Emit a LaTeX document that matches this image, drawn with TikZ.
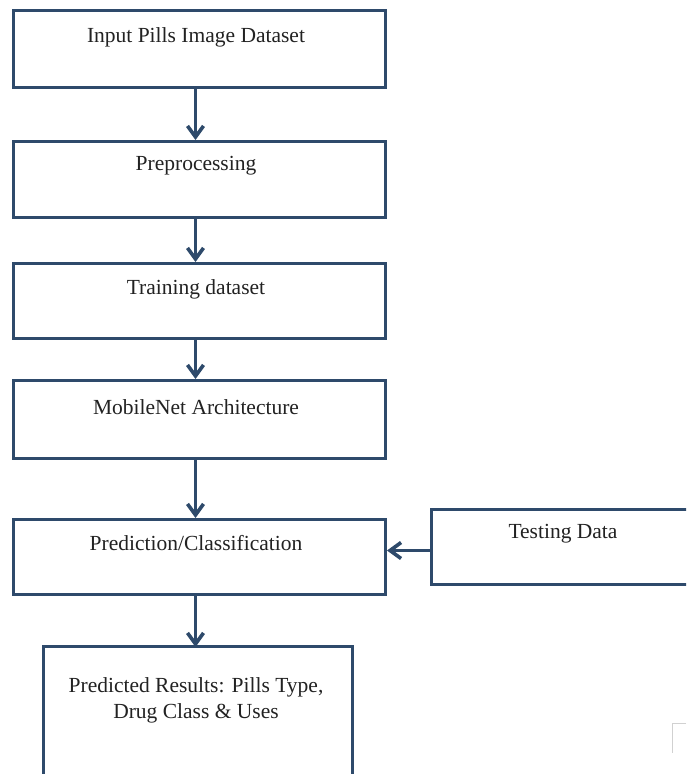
\documentclass[tikz,border=0pt]{standalone}
\usepackage{fontspec}
\setmainfont{Liberation Serif}
\usetikzlibrary{arrows.meta}
\definecolor{navy}{HTML}{2E4A6B}
\definecolor{txt}{HTML}{222222}
\begin{document}
\begin{tikzpicture}[x=1pt,y=-1pt,
  box/.style={draw=navy,line width=3pt,fill=white,inner sep=0pt,anchor=north west},
  lbl/.style={text=txt,font=\fontsize{21.5}{26}\selectfont,align=center,inner sep=0pt},
  arr/.style={draw=navy,line width=3pt,-{Straight Barb[length=11pt,width=16pt,line width=3.6pt]}}]
\useasboundingbox (0,0) rectangle (686,774);
\clip (0,0) rectangle (686,774);
\fill[white] (0,0) rectangle (686,774);
% boxes
\node[box,minimum width=372pt,minimum height=77pt] (b1) at (12,9) {};
\node[box,minimum width=372pt,minimum height=76pt] (b2) at (12,140) {};
\node[box,minimum width=372pt,minimum height=75pt] (b3) at (12,262) {};
\node[box,minimum width=372pt,minimum height=78pt] (b4) at (12,379) {};
\node[box,minimum width=372pt,minimum height=75pt] (b5) at (12,518) {};
\node[box,minimum width=290pt,minimum height=75pt] (b6) at (430,508) {};
\node[box,minimum width=309pt,minimum height=160pt] (b7) at (42,645) {};
% texts
\node[lbl] (t1) at (196,37) {Input Pills Image Dataset};
\node[lbl] (t2) at (196,166) {Preprocessing};
\node[lbl] (t3) at (196,289) {Training dataset};
\node[lbl] (t4) at (196,407) {MobileNet Architecture};
\node[lbl] (t5) at (196,543) {Prediction/Classification};
\node[lbl] (t6) at (563,534) {Testing Data};
\node[lbl] (t7) at (196,700) {Predicted Results: Pills Type,\\Drug Class \& Uses};
% connectors
\draw[arr] ([xshift=-4pt]b1.south) -- ([xshift=-4pt]b2.north);
\draw[arr] ([xshift=-4pt]b2.south) -- ([xshift=-4pt]b3.north);
\draw[arr] ([xshift=-4pt]b3.south) -- ([xshift=-4pt]b4.north);
\draw[arr] ([xshift=-4pt]b4.south) -- ([xshift=-4pt]b5.north);
\draw[arr] ([xshift=-4pt]b5.south) -- ([xshift=-4pt,yshift=-2pt]b5.south |- b7.north);
\draw[arr] ([yshift=-3.5pt]b6.west) -- ([yshift=-3.5pt]b6.west -| b5.east);
% faint mark
\draw[black!18,line width=1pt] (686,723) -- (672,723) -- (672,753);
\end{tikzpicture}
\end{document}
